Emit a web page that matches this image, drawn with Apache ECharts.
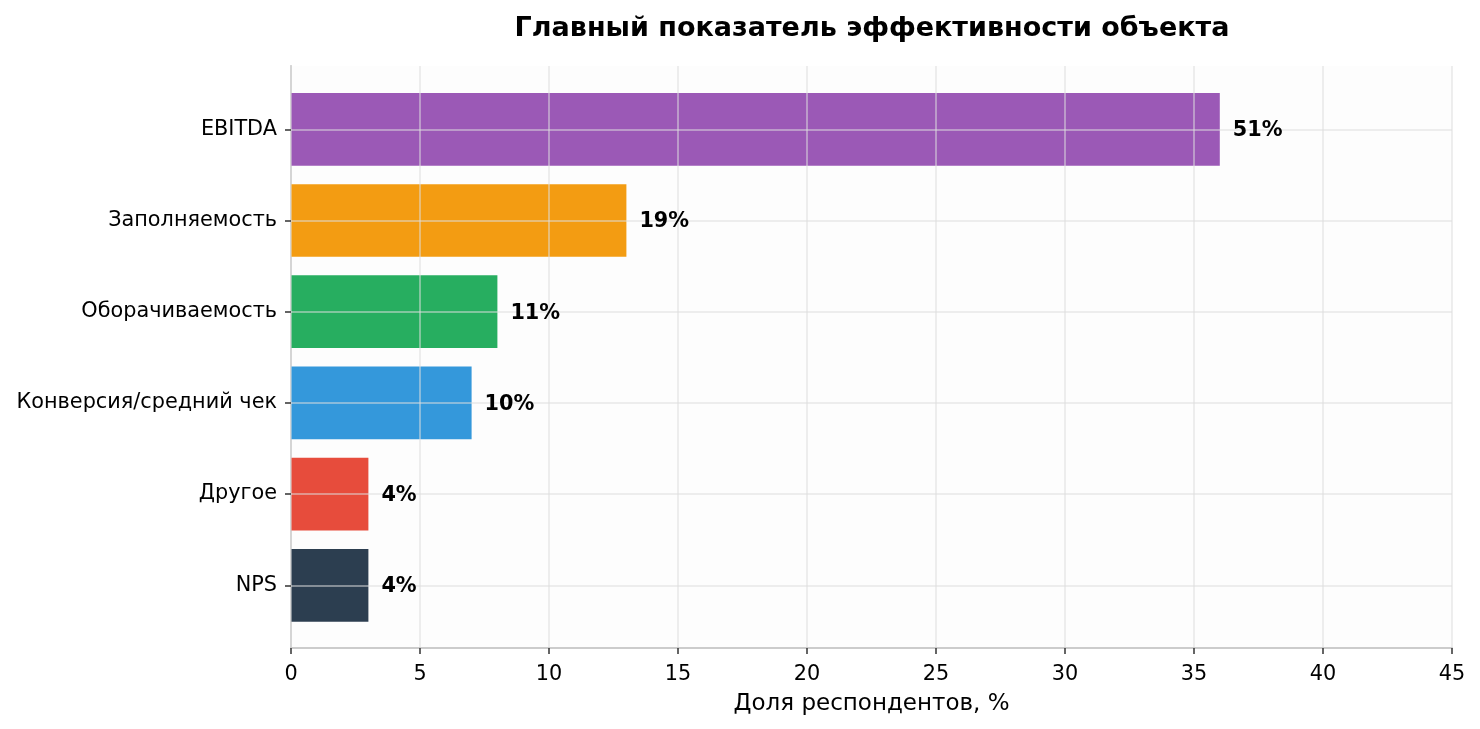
<!DOCTYPE html>
<html>
<head>
    <meta charset="utf-8">
    <title>ECharts</title>
    <script src="https://cdn.jsdelivr.net/npm/echarts@6/dist/echarts.min.js"></script>
    <style>
        body { margin: 0; background: #fff; }
    </style>
</head>
<body>
<div id="main" style="width: 1480px;height:729px;"></div>
<script type="text/javascript">
    // данные графика
    var categories = ['EBITDA', 'Заполняемость', 'Оборачиваемость', 'Конверсия/средний чек', 'Другое', 'NPS'];
    var values = [36, 13, 8, 7, 3, 3];
    var shareLabels = ['51%', '19%', '11%', '10%', '4%', '4%'];
    var barColors = ['#9b59b6', '#f39c12', '#27ae60', '#3498db', '#e74c3c', '#2c3e50'];
    var xTicks = [0, 5, 10, 15, 20, 25, 30, 35, 40, 45];

    var myChart = echarts.init(document.getElementById('main'));
    var font = 'DejaVu Sans';
    var gridColor = 'rgba(222,222,222,0.5)';

    var barData = values.map(function (v, i) {
        return { value: v, itemStyle: { color: barColors[i] } };
    });
    var labelData = values.map(function (v, i) {
        return { value: v, label: { formatter: shareLabels[i] } };
    });

    var option = {
        animation: false,
        textStyle: { fontFamily: font },
        title: {
            text: 'Главный показатель эффективности объекта',
            left: 867,
            top: 10,
            textAlign: 'center',
            textStyle: { fontFamily: font, fontSize: 27, fontWeight: 'bold', color: '#000' }
        },
        grid: [
            // рамка: фон, оси, сетка
            { left: 291, right: 28, top: 66, bottom: 81, show: true, backgroundColor: '#fdfdfd', borderWidth: 0 },
            // полосы
            { left: 291, right: 28, top: 83.7, bottom: 98.1 }
        ],
        xAxis: [{
            gridIndex: 0,
            type: 'value',
            min: xTicks[0],
            max: xTicks[xTicks.length - 1],
            interval: 5,
            z: 3,
            name: 'Доля респондентов, %',
            nameLocation: 'middle',
            nameGap: 45,
            nameTextStyle: { fontFamily: font, fontSize: 23, color: '#000' },
            axisLine: { show: true, lineStyle: { color: '#cccccc', width: 2 } },
            axisTick: { show: true, length: 6, lineStyle: { color: '#333', width: 1.5 } },
            axisLabel: { fontFamily: font, fontSize: 20.8, color: '#000', margin: 16 },
            splitLine: { show: true, lineStyle: { color: gridColor, width: 2 } }
        }, {
            gridIndex: 1,
            type: 'value',
            min: xTicks[0],
            max: xTicks[xTicks.length - 1],
            show: false
        }],
        yAxis: [{
            gridIndex: 0,
            type: 'value',
            min: 0,
            max: 1,
            axisLine: { show: true, lineStyle: { color: '#cccccc', width: 2 } },
            axisTick: { show: false },
            axisLabel: { show: false },
            splitLine: { show: false }
        }, {
            gridIndex: 1,
            type: 'category',
            inverse: true,
            data: categories,
            z: 3,
            axisLine: { show: false },
            axisTick: { show: true, alignWithLabel: true, length: 6, lineStyle: { color: '#333', width: 1.5 } },
            axisLabel: { fontFamily: font, fontSize: 20.8, color: '#000', margin: 14, padding: [6, 0, 0, 0] },
            splitLine: { show: true, alignWithLabel: true, lineStyle: { color: gridColor, width: 2 } }
        }],
        series: [{
            type: 'bar',
            xAxisIndex: 1,
            yAxisIndex: 1,
            barWidth: '79.7%',
            data: barData
        }, {
            type: 'bar',
            xAxisIndex: 1,
            yAxisIndex: 1,
            barWidth: '79.7%',
            barGap: '-100%',
            z: 5,
            itemStyle: { color: 'rgba(0,0,0,0)' },
            label: {
                show: true,
                position: 'right',
                distance: 13,
                offset: [0, 1.5],
                fontFamily: font,
                fontSize: 20.8,
                fontWeight: 'bold',
                color: '#000'
            },
            data: labelData
        }]
    };

    myChart.setOption(option);
</script>
</body>
</html>
